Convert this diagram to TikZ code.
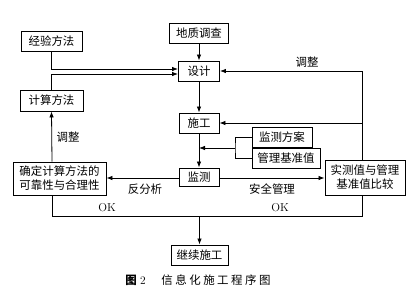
\documentclass[tikz,border=0pt]{standalone}
\usepackage{fontspec}
\newfontfamily\cjk{Noto Sans CJK SC}
\usetikzlibrary{arrows.meta,calc}
\tikzset{
  box/.style={draw, line width=0.9bp, inner sep=0pt, align=center, font=\cjk\fontsize{11.5}{14}\selectfont},
  conn/.style={line width=0.8bp},
  arr/.style={conn, -{Latex[length=6bp,width=4.5bp]}},
  lbl/.style={font=\cjk\fontsize{11.5}{14}\selectfont, inner sep=0pt},
  oklbl/.style={font=\fontsize{11.5}{14}\selectfont, inner sep=0pt}
}
\begin{document}
\begin{tikzpicture}[x=1bp,y=-1bp]
\useasboundingbox (0,0) rectangle (420,296);
% boxes
\node[box, minimum width=61bp, minimum height=20bp] (jy) at (51.5,41) {经验方法};
\node[box, minimum width=63bp, minimum height=21bp] (js) at (51.5,100.5) {计算方法};
\node[box, minimum width=59bp, minimum height=20bp] (dz) at (199,33) {地质调查};
\node[box, minimum width=41bp, minimum height=20bp] (sj) at (199,71) {设计};
\node[box, minimum width=40bp, minimum height=20bp] (sg) at (199,123) {施工};
\node[box, minimum width=60bp, minimum height=20bp] (jcfa) at (282,137) {监测方案};
\node[box, minimum width=68bp, minimum height=20bp] (gl) at (286,158) {管理基准值};
\node[box, minimum width=40bp, minimum height=18bp] (jc) at (199,177) {监测};
\node[box, minimum width=93bp, minimum height=33bp] (qd) at (59.5,178.5) {确定计算方法的\\可靠性与合理性};
\node[box, minimum width=80bp, minimum height=35bp] (ss) at (365,177.5) {实测值与管理\\基准值比较};
\node[box, minimum width=57bp, minimum height=20bp] (jx) at (199.5,255) {继续施工};
% coordinates
\coordinate (tr) at (362,71);
\coordinate (jn) at (235,148);
\coordinate (bl) at (52,216);
\coordinate (br) at (362,216);
% connectors
\draw[arr] (dz) -- (sj);
\draw[arr] (jy.south) |- ($(sj.west)+(0,-2)$);
\draw[arr] (js.north) |- ($(sj.west)+(0,3)$);
\draw[arr] (sj) -- (sg);
\draw[arr] (sg) -- (jc);
\draw[conn] (jcfa.west) -| (jn) |- (gl.west);
\draw[arr] (jn) -- (jn -| sg.south);
\draw[arr] (tr |- ss.north) -- (tr) -- (sj.east);
\draw[arr] (tr |- sg.east) -- (sg.east);
\draw[arr] (jc.east |- 0,178) -- (ss.west |- 0,178);
\draw[arr] (jc.west |- 0,178) -- (qd.east |- 0,178);
\draw[arr] (bl |- qd.north) -- (js.south);
\draw[conn] (bl |- qd.south) -- (bl) -- (br) -- (tr |- ss.south);
\draw[arr] (jx.north |- bl) -- (jx.north);
% labels
\node[lbl] (l1) at (307,62) {调整};
\node[lbl] (l2) at (68,137) {调整};
\node[lbl] (l3) at (145,189) {反分析};
\node[lbl] (l4) at (272,189) {安全管理};
\node[oklbl] (ok1) at (107,208) {OK};
\node[oklbl] (ok2) at (280,208) {OK};
% caption
\node[font=\cjk\bfseries\fontsize{11.5}{14}\selectfont, inner sep=0pt] (c1) at (131,280) {图};
\node[font=\fontsize{11.5}{14}\selectfont, inner sep=0pt] (c2) at (143,281) {2};
\node[lbl] (c3) at (216,280) {信\kern2.5bp 息\kern2.5bp 化\kern2.5bp 施\kern2.5bp 工\kern2.5bp 程\kern2.5bp 序\kern2.5bp 图};
\end{tikzpicture}
\end{document}
